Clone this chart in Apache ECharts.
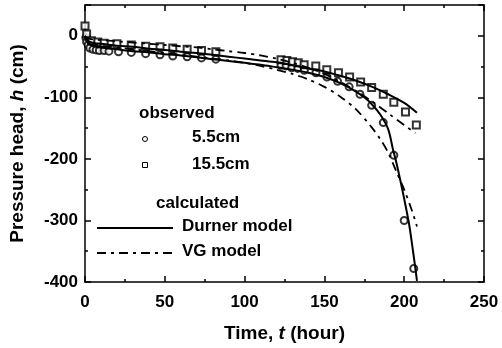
<!DOCTYPE html>
<html>
<head>
<meta charset="utf-8">
<script src="https://cdn.jsdelivr.net/npm/echarts@6/dist/echarts.min.js"></script>
<style>
  html, body { margin: 0; padding: 0; background: #fff; }
  #chart { width: 502px; height: 348px; }
</style>
</head>
<body>
<div id="chart"></div>
<script>
// observed data, [time (hour), pressure head (cm)]
const obs55 = [
  [0.5, -3], [1, -10], [2, -15], [3, -20], [5, -22], [7, -23], [9, -24], [12, -24],
  [15, -25], [21, -26], [29, -27], [38, -29], [47, -31], [55, -33], [64, -34],
  [73, -36], [82, -38],
  [122.8, -48], [126, -49], [129.5, -52], [133.3, -53], [137.4, -56], [144.7, -60],
  [151.6, -67], [158.3, -74], [165.5, -83], [172.3, -95], [179.6, -113],
  [186.9, -141], [193.5, -194], [200, -300], [206, -378]
]
const obs155 = [
  [0, 16], [1, 3], [4, -8], [8, -10], [12, -12], [20, -13], [29, -15], [38, -17],
  [47, -18], [55, -20], [64, -22], [73, -24], [82, -26],
  [122.8, -39], [126.5, -40], [130, -42], [133.6, -44], [137.3, -47], [144.6, -49],
  [151.5, -55], [158.8, -60], [165.8, -67], [172.7, -75], [179.6, -84],
  [186.9, -95], [193.5, -108], [200.8, -124], [207.6, -145]
]
// calculated curves
const durner55 = [
  [0, -1], [1, -9], [3, -14], [6, -17], [10, -19], [20, -22], [30, -25], [40, -27],
  [50, -30], [60, -32], [70, -35], [80, -38], [90, -41], [100, -44], [110, -47],
  [120, -51], [130, -55], [140, -60], [150, -67], [160, -77], [170, -91], [175, -100],
  [180, -112], [185, -128], [190, -152], [193, -185], [195, -205], [198, -240],
  [200, -265], [203, -305], [205, -340], [207, -378], [208, -398]
]
const durner155 = [
  [0, -1], [1, -6], [3, -10], [6, -12], [10, -13], [20, -16], [30, -18], [40, -21],
  [50, -23], [60, -26], [70, -28], [80, -31], [90, -34], [100, -37], [110, -40],
  [120, -43], [130, -48], [140, -53], [150, -58], [160, -65], [170, -73], [180, -83],
  [190, -95], [200, -109], [208, -125]
]
const vg55 = [
  [0, 0], [1, -6], [3, -11], [6, -14], [10, -16], [20, -19], [30, -22], [40, -25],
  [50, -28], [60, -31], [70, -34], [80, -37], [90, -40], [100, -44], [110, -49],
  [120, -55], [130, -62], [140, -71], [150, -83], [160, -99], [170, -120], [180, -150],
  [185, -168], [190, -190], [195, -220], [200, -250], [205, -285], [208, -310]
]
const vg155 = [
  [0, 0], [1, -3], [3, -5], [6, -6], [10, -7], [20, -9], [30, -11], [40, -13],
  [50, -15], [60, -17], [70, -19], [80, -22], [90, -25], [100, -28], [110, -32],
  [120, -37], [130, -44], [140, -52], [150, -62], [160, -75], [170, -90], [180, -107],
  [190, -126], [200, -145], [207, -158]
]

const font = 'Liberation Sans, Arial, sans-serif'
const dashDot = [9, 5, 3, 5]

const myChart = echarts.init(document.getElementById('chart'))

function lineSeries(data, dashed) {
  return {
    type: 'line',
    data: data,
    showSymbol: false,
    smooth: 0.3,
    lineStyle: { color: '#000', width: dashed ? 1.8 : 2, type: dashed ? dashDot : 'solid' },
    z: 3
  }
}

function pointSeries(data, symbol) {
  return {
    type: 'scatter',
    data: data,
    symbol: symbol,
    symbolSize: 7,
    itemStyle: { color: '#000', borderWidth: 1.1 },
    z: 2
  }
}

function label(text, x, y, size) {
  return {
    type: 'text',
    left: x,
    top: y,
    style: { text: text, font: 'bold ' + (size || 17) + 'px ' + font, fill: '#000' }
  }
}

const lineCol = { color: '#000', width: 1.5 }

let option = {
  animation: false,
  grid: { left: 83, right: 18, top: 5, bottom: 60 },
  xAxis: [
    {
      type: 'value',
      min: 0,
      max: 250,
      interval: 50,
      name: '{a|Time, }{b|t}{a| (hour)}',
      nameLocation: 'middle',
      nameGap: 42,
      nameTextStyle: {
        rich: {
          a: { fontFamily: font, fontWeight: 'bold', fontSize: 19, color: '#000' },
          b: { fontFamily: font, fontWeight: 'bold', fontStyle: 'italic', fontSize: 19, color: '#000' }
        }
      },
      axisLine: { onZero: false, lineStyle: lineCol },
      axisTick: { inside: true, length: 6, lineStyle: lineCol },
      minorTick: { show: true, splitNumber: 2, length: 3, lineStyle: lineCol },
      axisLabel: { fontFamily: font, fontWeight: 'bold', fontSize: 17, color: '#000', margin: 12 },
      splitLine: { show: false }
    },
    {
      type: 'value',
      position: 'top',
      min: 0,
      max: 250,
      interval: 50,
      axisLine: { onZero: false, lineStyle: lineCol },
      axisTick: { inside: true, length: 6, lineStyle: lineCol },
      minorTick: { show: true, splitNumber: 2, length: 3, lineStyle: lineCol },
      axisLabel: { show: false },
      splitLine: { show: false }
    }
  ],
  yAxis: [
    {
      type: 'value',
      min: -400,
      max: 50,
      interval: 100,
      name: '{a|Pressure head, }{b|h}{a| (cm)}',
      nameLocation: 'middle',
      nameGap: 58,
      nameTextStyle: {
        rich: {
          a: { fontFamily: font, fontWeight: 'bold', fontSize: 19, color: '#000' },
          b: { fontFamily: font, fontWeight: 'bold', fontStyle: 'italic', fontSize: 19, color: '#000' }
        }
      },
      axisLine: { onZero: false, lineStyle: lineCol },
      axisTick: { inside: true, length: 6, lineStyle: lineCol },
      minorTick: { show: true, splitNumber: 2, length: 3, lineStyle: lineCol },
      axisLabel: {
        fontFamily: font, fontWeight: 'bold', fontSize: 17, color: '#000', margin: 7,
        formatter: v => (v > 0 ? '' : v)
      },
      splitLine: { show: false }
    },
    {
      type: 'value',
      position: 'right',
      min: -400,
      max: 50,
      interval: 100,
      axisLine: { onZero: false, lineStyle: lineCol },
      axisTick: { inside: true, length: 6, lineStyle: lineCol },
      minorTick: { show: true, splitNumber: 2, length: 3, lineStyle: lineCol },
      axisLabel: { show: false },
      splitLine: { show: false }
    }
  ],
  series: [
    pointSeries(obs55, 'emptyCircle'),
    pointSeries(obs155, 'emptyRect'),
    lineSeries(durner55, false),
    lineSeries(durner155, false),
    lineSeries(vg55, true),
    lineSeries(vg155, true)
  ],
  graphic: [
    label('observed', 139, 105),
    { type: 'circle', shape: { cx: 145, cy: 139, r: 2.5 }, style: { fill: '#fff', stroke: '#000', lineWidth: 1 } },
    label('5.5cm', 192, 129),
    { type: 'rect', shape: { x: 142.5, y: 162.5, width: 5, height: 5 }, style: { fill: '#fff', stroke: '#000', lineWidth: 1 } },
    label('15.5cm', 192, 156),
    label('calculated', 156, 195),
    { type: 'line', shape: { x1: 97, y1: 228, x2: 173, y2: 228 }, style: { stroke: '#000', lineWidth: 2 } },
    label('Durner model', 182, 218),
    { type: 'line', shape: { x1: 97, y1: 253, x2: 172, y2: 253 }, style: { stroke: '#000', lineWidth: 1.8, lineDash: dashDot } },
    label('VG model', 182, 243)
  ]
}
myChart.setOption(option)
</script>
</body>
</html>
